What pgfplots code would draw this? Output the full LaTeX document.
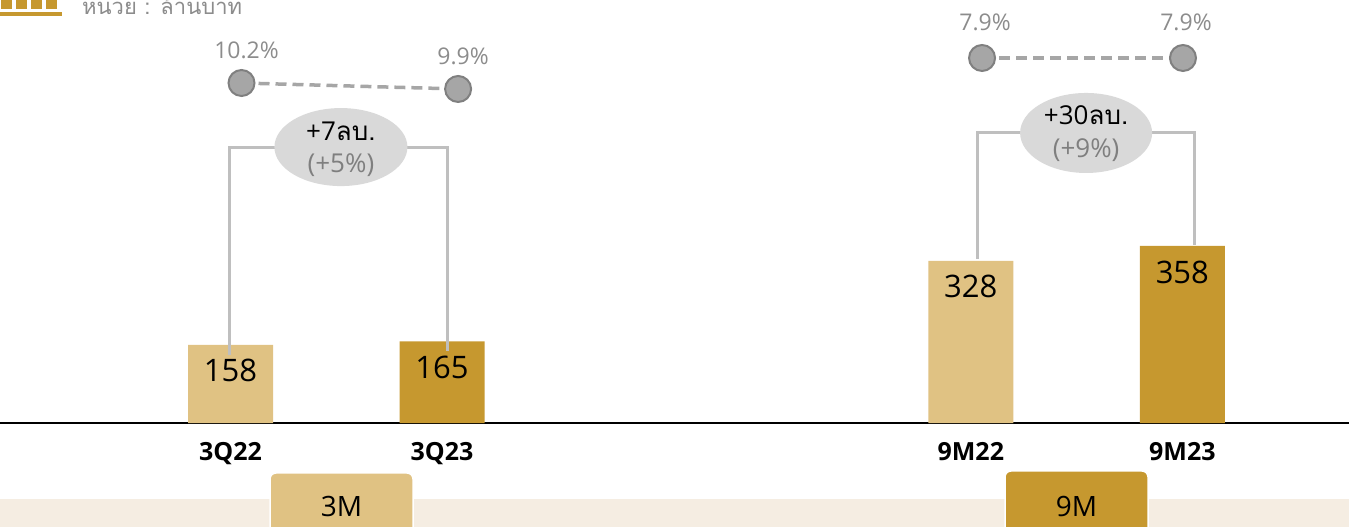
\documentclass[border=0pt]{standalone}
\usepackage{pgfplots}
\pgfplotsset{compat=1.18}
\usepackage{fontspec}
\setmainfont{Open Sans}
\newfontfamily\thai[Script=Thai]{Loma}
\definecolor{lightgold}{HTML}{E0C283}
\definecolor{darkgold}{HTML}{C6982F}
\definecolor{band}{HTML}{F5EDE2}
\definecolor{brk}{HTML}{BFBFBF}
\definecolor{ell}{HTML}{D9D9D9}
\definecolor{mk}{HTML}{A6A6A6}
\definecolor{mkb}{HTML}{808080}
\definecolor{lbl}{HTML}{8C8C8C}
\definecolor{pct}{HTML}{7F7F7F}
\newcommand\fs[1]{\fontsize{#1}{#1}\selectfont}
\begin{document}
\begin{tikzpicture}[x=1pt,y=1pt]
% background band and tabs
\fill[band] (0,0) rectangle (1349,28);
\filldraw[draw=white, fill=lightgold, rounded corners=6pt, line width=1.5pt] (270,-8) -- (270,54) -- (413,54) -- (413,-8) -- cycle;
\node[font=\fs{28}] at (341.5,20) {3M};
\filldraw[draw=white, fill=darkgold, rounded corners=6pt, line width=1.5pt] (1005,-8) -- (1005,56) -- (1148,56) -- (1148,-8) -- cycle;
\node[font=\fs{28}] at (1076.5,20) {9M};
% header icon
\fill[darkgold] (1,518) rectangle (12,530);
\fill[darkgold] (16,518) rectangle (27,530);
\fill[darkgold] (31,518) rectangle (42,530);
\fill[darkgold] (46,518) rectangle (57,530);
\fill[darkgold] (0,511) rectangle (62,515);
\node[anchor=base west, text=lbl, font=\thai\fs{22}, inner sep=0] at (82,512) {หน่วย : ล้านบาท};

\begin{axis}[at={(0,0)}, anchor=south west, width=1349pt, height=527pt, scale only axis,
  xmin=-1.0898, xmax=5.288, ymin=-210.3, ymax=855.4,
  axis x line=middle, axis y line=none,
  x axis line style={-, black, line width=1.2pt},
  xtick={0,1,3.5,4.5}, xticklabels={3Q22,3Q23,9M22,9M23},
  xtick style={draw=none}, ytick=\empty,
  xticklabel style={font=\fs{25}\bfseries, yshift=-14pt},
  /pgf/number format/assume math mode=true,
  clip=false]
\addplot[ybar, bar width=85pt, bar shift=0pt, fill=lightgold, draw=none,
  nodes near coords, every node near coord/.append style={anchor=center, yshift=-26pt, font=\fs{31}, text=black}]
  coordinates {(0,158) (3.5,328)};
\addplot[ybar, bar width=85pt, bar shift=0pt, fill=darkgold, draw=none,
  nodes near coords, every node near coord/.append style={anchor=center, yshift=-26pt, font=\fs{31}, text=black}]
  coordinates {(1,165) (4.5,358)};
\addplot[brk, line width=3pt, no marks] coordinates {(-0.007,137.5) (-0.007,558) (1.026,558) (1.026,145.6)};
\addplot[brk, line width=3pt, no marks] coordinates {(3.530,331.6) (3.530,586.5) (4.556,586.5) (4.556,360)};
\fill[ell] (axis cs:0.522,558) ellipse [x radius=66.5pt, y radius=39pt];
\node[inner sep=0, anchor=base, font=\fs{26}] at (axis cs:0.522,572.2) {+7{\thai ลบ.}};
\node[inner sep=0, anchor=base, font=\fs{26}, text=pct] at (axis cs:0.522,505.6) {(+5\%)};
\fill[ell] (axis cs:4.045,586.5) ellipse [x radius=66pt, y radius=40pt];
\node[inner sep=0, anchor=base, font=\fs{26}] at (axis cs:4.045,604.6) {+30{\thai ลบ.}};
\node[inner sep=0, anchor=base, font=\fs{26}, text=pct] at (axis cs:4.045,535.9) {(+9\%)};
\end{axis}

\begin{axis}[at={(0,0)}, anchor=south west, width=1349pt, height=527pt, scale only axis,
  xmin=-1.0898, xmax=5.288, ymin=-12, ymax=14.35, hide axis, clip=false]
\addplot[mk, line width=3.5pt, dash pattern=on 11pt off 6pt, mark=*, mark size=13pt,
  mark options={solid, fill=mk, draw=mkb, line width=2pt},
  nodes near coords, point meta=explicit symbolic,
  every node near coord/.append style={anchor=center, yshift=33pt, xshift=5pt, font=\fs{23}, text=lbl}]
  coordinates {(0.052,10.2) [10.2\%] (1.076,9.9) [9.9\%]};
\end{axis}

\begin{axis}[at={(0,0)}, anchor=south west, width=1349pt, height=527pt, scale only axis,
  xmin=-1.0898, xmax=5.288, ymin=-15.55, ymax=10.8, hide axis, clip=false]
\addplot[mk, line width=3.5pt, dash pattern=on 11pt off 6pt, mark=*, mark size=13pt,
  mark options={solid, fill=mk, draw=mkb, line width=2pt},
  nodes near coords, point meta=explicit symbolic,
  every node near coord/.append style={anchor=center, yshift=36pt, xshift=3pt, font=\fs{23}, text=lbl}]
  coordinates {(3.553,7.9) [7.9\%] (4.503,7.9) [7.9\%]};
\end{axis}
\pgfresetboundingbox
\useasboundingbox (0,0) rectangle (1349,527);
\end{tikzpicture}
\end{document}
